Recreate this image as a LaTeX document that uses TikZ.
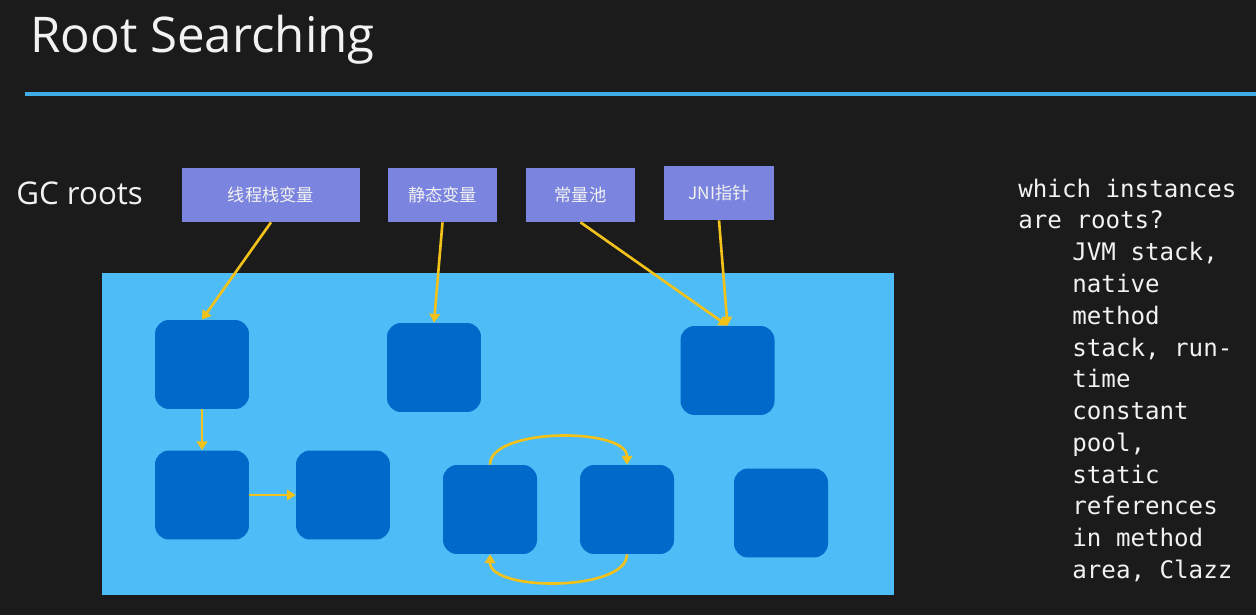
\documentclass[tikz,border=0pt]{standalone}
\usepackage{fontspec}
\setmainfont{Open Sans}
\setmonofont{DejaVu Sans Mono}
\newfontfamily\cjk{Noto Sans CJK SC}
\usetikzlibrary{arrows.meta}
\definecolor{board}{HTML}{1B1B1B}
\definecolor{rulecol}{HTML}{3FAEE6}
\definecolor{rootblue}{HTML}{7B85DF}
\definecolor{heapblue}{HTML}{4DBCF7}
\definecolor{objblue}{HTML}{0069C9}
\definecolor{linkcol}{HTML}{F2C21A}
\definecolor{chalk}{HTML}{F2F2F2}

\begin{document}
\begin{tikzpicture}[x=0.02cm,y=-0.02cm,
		rootbox/.style={fill=rootblue,text=chalk,font=\cjk\fontsize{9.8}{11}\selectfont,minimum height=1.08cm,inner sep=0pt},
		objbox/.style={fill=objblue,rounded corners=0.28cm,minimum width=1.88cm,minimum height=1.78cm,inner sep=0pt},
		link/.style={draw=linkcol,line width=1.5pt,-{Triangle[length=5pt,width=6pt]}},
		note/.style={anchor=base west,inner sep=0pt,text=chalk,font=\ttfamily\fontsize{13.75}{18}\selectfont}]
				\fill[board] (0,0) rectangle (1256,615);
				\useasboundingbox (0,0) rectangle (1256,615);
				\node[anchor=base west,inner sep=0pt,text=chalk,font=\fontsize{28}{34}\selectfont] (title) at (30,52) {Root Searching};
				\draw[rulecol,line width=2.4pt] (25,94) -- (1256,94);
				\node[anchor=base west,inner sep=0pt,text=chalk,font=\fontsize{17.8}{21}\selectfont] (gc) at (16,204) {GC roots};
				% roots
				\node[rootbox,minimum width=3.56cm] (stackvar) at (271,195) {线程栈变量};
				\node[rootbox,minimum width=2.18cm] (staticvar) at (442.5,195) {静态变量};
				\node[rootbox,minimum width=2.18cm] (constpool) at (580.5,195) {常量池};
				\node[rootbox,minimum width=2.2cm] (jniptr) at (719,193) {JNI指针};
				% heap
				\fill[heapblue] (102,273) rectangle (894,595);
				\node[objbox] (obja) at (202,364.5) {};
				\node[objbox] (objb) at (434,367.5) {};
				\node[objbox] (objc) at (727.5,370.5) {};
				\node[objbox] (objd) at (202,495) {};
				\node[objbox] (obje) at (343,495) {};
				\node[objbox] (objf) at (490,509.5) {};
				\node[objbox] (objg) at (627,509.5) {};
				\node[objbox] (objh) at (781,513) {};
				\draw[link] (stackvar.south) -- (obja.north);
				\draw[link] (staticvar.south) -- (objb.north);
				\draw[link] (constpool.south) -- (objc.north);
				\draw[link] (jniptr.south) -- (objc.north);
				\draw[link] (obja.south) -- (objd.north);
				\draw[link] (objd.east) -- (obje.west);
				\draw[link] (objf.north) to[out=90,in=90,looseness=0.7] (objg.north);
				\draw[link] (objg.south) to[out=-90,in=-90,looseness=0.7] (objf.south);
				% which are roots
				\node[note] (ask1) at (1018,197) {which instances};
				\node[note] (ask2) at (1018,228.75) {are roots?};
				\foreach \txt [count=\i] in {{JVM stack,},native,method,{stack, run-},time,constant,{pool,},static,references,in method,{area, Clazz}}
					\node[note] (ans\i) at (1072,229+\i*31.75) {\txt};
			\end{tikzpicture}
\end{document}
